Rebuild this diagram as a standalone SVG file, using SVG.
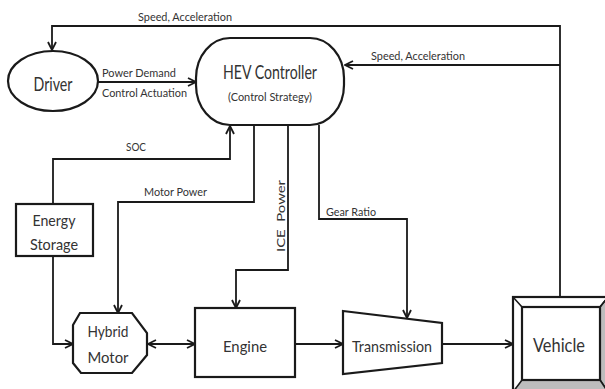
<svg xmlns="http://www.w3.org/2000/svg" width="605" height="389" viewBox="0 0 605 389">
  <style>
    .shape { fill: #fff; stroke: #1a1a1a; stroke-width: 2.2; }
    .wire { fill: none; stroke: #1a1a1a; stroke-width: 1.8; }
    .lbl { font-family: Lato, "Open Sans", sans-serif; font-size: 11.5px; fill: #333; }
    .big { font-family: Lato, "Open Sans", sans-serif; font-size: 19px; fill: #333; text-anchor: middle; }
    .mid { font-family: Lato, "Open Sans", sans-serif; font-size: 16px; fill: #333; text-anchor: middle; }
  </style>
  <defs>
    <marker id="head" viewBox="0 0 10 10" refX="9" refY="5" markerWidth="10" markerHeight="10" markerUnits="userSpaceOnUse" orient="auto-start-reverse">
      <path d="M1,1 L9,5 L1,9" fill="none" stroke="#1a1a1a" stroke-width="1.8"/>
    </marker>
  </defs>

  <rect width="605" height="389" fill="#fff"/>

  <!-- connectors -->
  <g id="connectors">
    <path class="wire" d="M560,297 V26 H52 V50" marker-end="url(#head)"/>
    <path class="wire" d="M560,65 H345" marker-end="url(#head)"/>
    <path class="wire" d="M98,82 H196" marker-end="url(#head)"/>
    <path class="wire" d="M53,204 V159 H230 V126" marker-end="url(#head)"/>
    <path class="wire" d="M254,125 V202 H118 V313" marker-end="url(#head)"/>
    <path class="wire" d="M288,125 V270 H236 V308" marker-end="url(#head)"/>
    <path class="wire" d="M319,125 V219 H407 V318" marker-end="url(#head)"/>
    <path class="wire" d="M53,256 V344 H73" marker-end="url(#head)"/>
    <path class="wire" d="M148,344 H195" marker-start="url(#head)" marker-end="url(#head)"/>
    <path class="wire" d="M295,344 H343" marker-end="url(#head)"/>
    <path class="wire" d="M442,344 H513" marker-end="url(#head)"/>

    <text class="lbl" x="138" y="21" textLength="94" lengthAdjust="spacingAndGlyphs">Speed, Acceleration</text>
    <text class="lbl" x="371" y="60" textLength="94" lengthAdjust="spacingAndGlyphs">Speed, Acceleration</text>
    <text class="lbl" x="102" y="77" textLength="74" lengthAdjust="spacingAndGlyphs">Power Demand</text>
    <text class="lbl" x="102" y="97" textLength="85" lengthAdjust="spacingAndGlyphs">Control Actuation</text>
    <text class="lbl" x="126" y="151" textLength="20" lengthAdjust="spacingAndGlyphs">SOC</text>
    <text class="lbl" x="144" y="196" textLength="63" lengthAdjust="spacingAndGlyphs">Motor Power</text>
    <text class="lbl" x="326" y="216" textLength="50" lengthAdjust="spacingAndGlyphs">Gear Ratio</text>
    <text class="lbl" transform="translate(285,252) rotate(-90)" x="0" y="0" textLength="72" lengthAdjust="spacingAndGlyphs" xml:space="preserve">ICE  Power</text>
  </g>

  <!-- driver -->
  <g id="driver">
    <ellipse class="shape" cx="53" cy="81" rx="45" ry="30"/>
    <text class="big" x="53" y="91" textLength="39" lengthAdjust="spacingAndGlyphs">Driver</text>
  </g>

  <!-- supervisory controller -->
  <g id="hev-controller">
    <rect class="shape" x="196" y="38" width="148" height="87" rx="34" ry="40"/>
    <text class="big" x="270" y="79" textLength="94" lengthAdjust="spacingAndGlyphs">HEV Controller</text>
    <text class="lbl" x="270" y="101" text-anchor="middle" font-size="13" textLength="84" lengthAdjust="spacingAndGlyphs">(Control Strategy)</text>
  </g>

  <!-- battery -->
  <g id="energy-storage">
    <rect class="shape" x="16" y="204" width="77" height="52"/>
    <text class="mid" x="54" y="226" textLength="43" lengthAdjust="spacingAndGlyphs">Energy</text>
    <text class="mid" x="54" y="250" textLength="48" lengthAdjust="spacingAndGlyphs">Storage</text>
  </g>

  <!-- electric machine -->
  <g id="hybrid-motor">
    <path class="shape" d="M80,313 H132 L147,333 V355 L132,373 H81 L73,363 V325 Z"/>
    <text class="mid" x="108" y="337" textLength="41" lengthAdjust="spacingAndGlyphs">Hybrid</text>
    <text class="mid" x="108" y="363" textLength="41" lengthAdjust="spacingAndGlyphs">Motor</text>
  </g>

  <!-- combustion engine -->
  <g id="engine">
    <rect class="shape" x="195" y="308" width="100" height="69"/>
    <text class="mid" x="245" y="352" textLength="44" lengthAdjust="spacingAndGlyphs">Engine</text>
  </g>

  <!-- gearbox -->
  <g id="transmission">
    <path class="shape" d="M343,311 L442,323 V363 L343,374 Z"/>
    <text class="mid" x="392" y="352" textLength="80" lengthAdjust="spacingAndGlyphs">Transmission</text>
  </g>

  <!-- bevelled vehicle block -->
  <g id="vehicle">
    <rect x="513" y="297" width="95" height="95" fill="#fff" stroke="#1a1a1a" stroke-width="2.2"/>
    <path d="M600,307 L608,297 V392 L600,380 Z" fill="#bdbdbd" stroke="#1a1a1a" stroke-width="1.6"/>
    <path d="M522,380 H600 L608,392 H513 Z" fill="#bdbdbd" stroke="#1a1a1a" stroke-width="1.6"/>
    <path d="M513,297 L522,307 M600,307 L608,297" fill="none" stroke="#1a1a1a" stroke-width="1.6"/>
    <rect x="522" y="307" width="78" height="73" fill="#fff" stroke="#1a1a1a" stroke-width="2.2"/>
    <text class="big" x="559" y="352" font-size="18" textLength="52" lengthAdjust="spacingAndGlyphs">Vehicle</text>
  </g>
</svg>
